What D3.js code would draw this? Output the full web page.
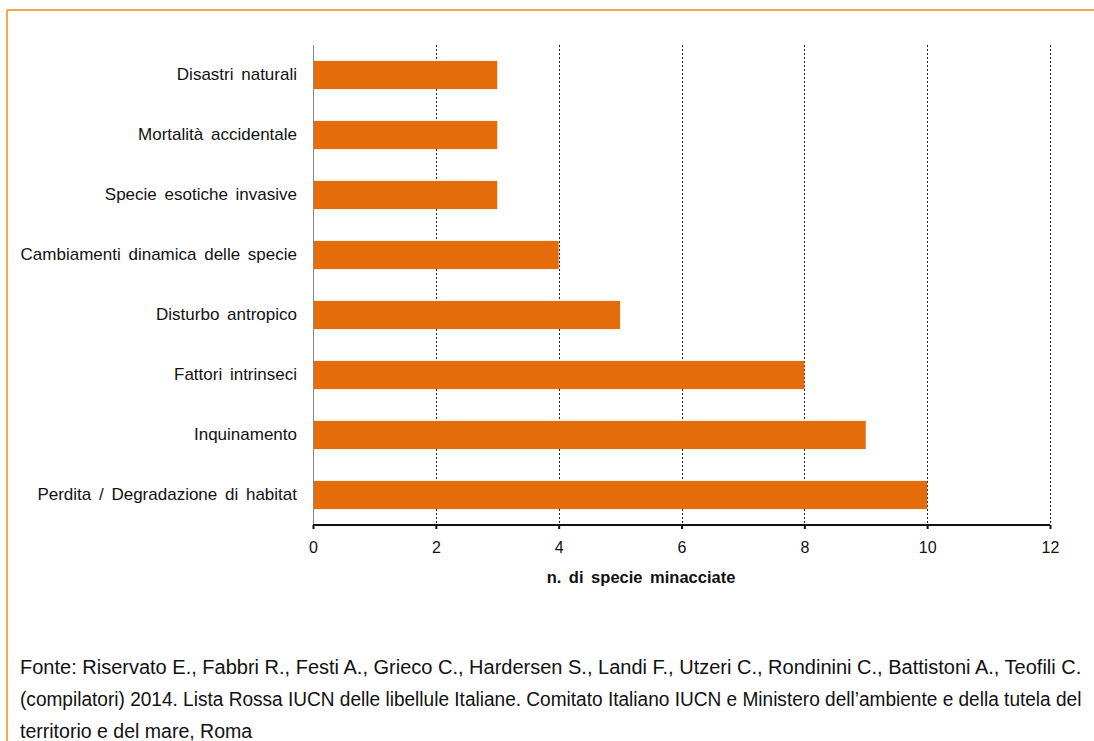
<!DOCTYPE html>
<html>
<head>
<meta charset="utf-8">
<script src="https://cdn.jsdelivr.net/npm/d3@7"></script>
<style>
  html, body { margin: 0; padding: 0; background: #fff; }
  svg { display: block; }
</style>
</head>
<body>
<svg id="chart" width="1094" height="741"></svg>
<script>
// Threats to Italian dragonflies: number of threatened species per threat
const categories = [
  "Disastri naturali",
  "Mortalità accidentale",
  "Specie esotiche invasive",
  "Cambiamenti dinamica delle specie",
  "Disturbo antropico",
  "Fattori intrinseci",
  "Inquinamento",
  "Perdita / Degradazione di habitat"
];
const values = [3, 3, 3, 4, 5, 8, 9, 10];
const xTicks = [0, 2, 4, 6, 8, 10, 12];
const xTitle = "n. di specie minacciate";
const sourceLines = [
  "Fonte: Riservato E., Fabbri R., Festi A., Grieco C., Hardersen S., Landi F., Utzeri C., Rondinini C., Battistoni A., Teofili C.",
  "(compilatori) 2014. Lista Rossa IUCN delle libellule Italiane. Comitato Italiano IUCN e Ministero dell’ambiente e della tutela del",
  "territorio e del mare, Roma"
];

const svg = d3.select("#chart");
const font = "'Liberation Sans', Arial, sans-serif";

// Frame lines (top and left)
svg.append("line").attr("x1", 7).attr("x2", 1094).attr("y1", 10).attr("y2", 10)
  .attr("stroke", "#f9a64f").attr("stroke-width", 2);
svg.append("line").attr("x1", 7).attr("x2", 7).attr("y1", 10).attr("y2", 741)
  .attr("stroke", "#f9a64f").attr("stroke-width", 2);

const plotLeft = 313, plotRight = 1050, plotTop = 45, plotBottom = 525;

const x = d3.scaleLinear().domain([0, 12]).range([plotLeft, plotRight]);
const y = d3.scaleBand().domain(categories).range([plotTop, plotBottom])
  .paddingInner(0.53).paddingOuter(0.265);

// Dotted vertical gridlines
svg.append("g").selectAll("line").data(xTicks.filter(d => d > 0)).join("line")
  .attr("x1", d => Math.round(x(d)) + 0.5).attr("x2", d => Math.round(x(d)) + 0.5)
  .attr("y1", plotTop).attr("y2", plotBottom)
  .attr("stroke", "#222").attr("stroke-width", 1).attr("stroke-dasharray", "2,2");

// Bars
svg.append("g").selectAll("rect").data(values).join("rect")
  .attr("x", x(0))
  .attr("y", (d, i) => y(categories[i]))
  .attr("width", d => x(d) - x(0))
  .attr("height", y.bandwidth())
  .attr("fill", "#e46c0a");

// Vertical axis line
svg.append("line").attr("x1", plotLeft + 0.5).attr("x2", plotLeft + 0.5)
  .attr("y1", plotTop).attr("y2", plotBottom)
  .attr("stroke", "#888").attr("stroke-width", 1);

// Category labels
const yAxis = svg.append("g").attr("transform", `translate(${plotLeft},0)`)
  .call(d3.axisLeft(y).tickSize(0).tickPadding(16));
yAxis.select(".domain").remove();
yAxis.selectAll("text").attr("font-family", font).attr("font-size", 17)
  .attr("word-spacing", 3).attr("fill", "#111");

// Horizontal axis
const xAxis = svg.append("g").attr("transform", `translate(0,${plotBottom})`)
  .call(d3.axisBottom(x).tickValues(xTicks).tickSize(4).tickPadding(12.6).tickFormat(d3.format("d")));
xAxis.select(".domain").attr("stroke", "#111").attr("stroke-width", 2.2)
  .attr("d", `M${plotLeft},0H${plotRight}`);
xAxis.selectAll(".tick line").attr("stroke", "#111").attr("stroke-width", 2);
xAxis.selectAll("text").attr("font-family", font).attr("font-size", 16).attr("fill", "#111");

// Axis title
svg.append("text").attr("x", 641).attr("y", 583).attr("text-anchor", "middle")
  .attr("font-family", font).attr("font-size", 16.5).attr("font-weight", "bold")
  .attr("word-spacing", 3).attr("fill", "#111")
  .text(xTitle);

// Source note: full lines condensed to the block width, last line at the same condensing
const noteLeft = 20, noteWidth = 1062, noteTop = 674, noteLead = 32;
const note = svg.append("g").attr("font-family", font).attr("font-size", 21).attr("fill", "#111");
const lines = note.selectAll("text").data(sourceLines).join("text")
  .attr("x", 0).attr("y", 0)
  .text(d => d);
const natural = lines.nodes().map(n => n.getComputedTextLength());
const ratio = d3.mean(natural.slice(0, -1), w => noteWidth / w);
lines.attr("transform", (d, i) => {
  const sx = i < sourceLines.length - 1 ? noteWidth / natural[i] : ratio;
  return `translate(${noteLeft},${noteTop + i * noteLead}) scale(${sx},1)`;
});
</script>
</body>
</html>
